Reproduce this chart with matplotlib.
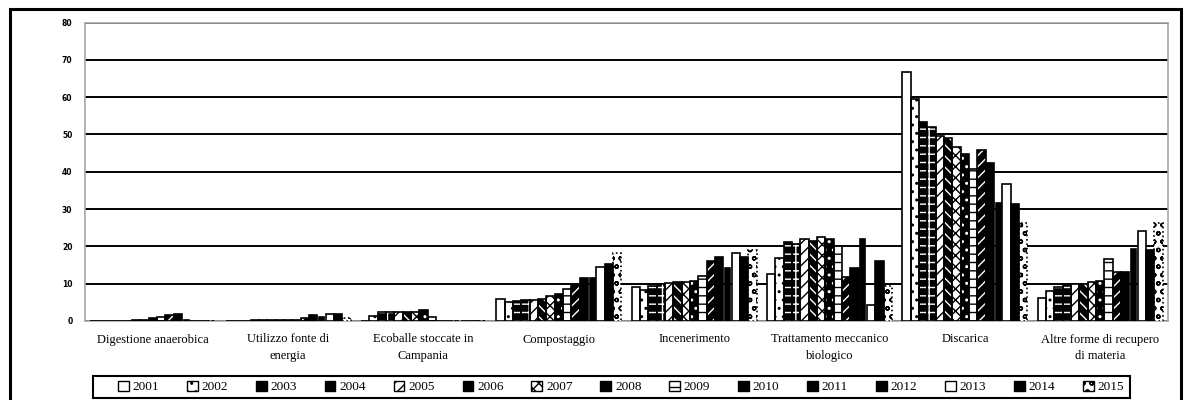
import matplotlib.pyplot as plt
from matplotlib.patches import Patch, Rectangle
import numpy as np

categories = ["Digestione anaerobica", "Utilizzo fonte di\nenergia",
              "Ecoballe stoccate in\nCampania", "Compostaggio", "Incenerimento",
              "Trattamento meccanico\nbiologico", "Discarica",
              "Altre forme di recupero\ndi materia"]
years = [str(y) for y in range(2001, 2016)]

# one row per category, one column per year (2001..2015)
digestione = [0, 0, 0, 0, 0, 0.2, 0.2, 0.7, 1.0, 1.5, 2.0, 0.4, 0, 0, 0]
utilizzo = [0, 0, 0, 0.2, 0.2, 0.2, 0.2, 0.2, 0.2, 0.8, 1.6, 1.2, 2.0, 2.0, 0.8]
ecoballe = [0, 1.3, 2.3, 2.3, 2.3, 2.3, 2.5, 2.9, 1.0, 0, 0, 0, 0, 0, 0]
compostaggio = [5.8, 5.1, 5.3, 5.5, 5.6, 6.0, 6.8, 7.3, 8.5, 9.6, 11.4, 11.4, 14.5, 15.2, 18.1]
incenerimento = [9.0, 8.4, 9.5, 9.8, 10.2, 10.4, 10.5, 10.6, 12.0, 16.1, 17.2, 14.1, 18.1, 17.2, 19.0]
tmb = [12.5, 17.0, 21.2, 20.6, 22.1, 21.5, 22.6, 22.0, 20.0, 11.9, 14.1, 22.1, 4.3, 16.1, 9.4]
discarica = [66.6, 59.4, 53.4, 51.9, 49.5, 49.0, 46.7, 44.8, 40.7, 45.8, 42.4, 31.7, 36.6, 31.4, 26.2]
altre = [6.1, 8.0, 9.0, 9.6, 9.8, 10.0, 10.4, 10.6, 16.6, 13.0, 13.0, 19.2, 24.1, 19.0, 26.2]

values = np.array([digestione, utilizzo, ecoballe, compostaggio,
                   incenerimento, tmb, discarica, altre])

# face colour, hatch, hatch colour for each year
styles = [
    ("white", None, "black"),
    ("white", "..", "black"),
    ("black", "--", "white"),
    ("black", "++", "white"),
    ("white", "///", "black"),
    ("black", "\\\\\\", "white"),
    ("white", "xxx", "black"),
    ("black", "..", "white"),
    ("white", "--", "black"),
    ("black", "///", "white"),
    ("black", None, "black"),
    ("black", None, "black"),
    ("white", None, "black"),
    ("black", None, "black"),
    ("white", "oo", "black"),
]

plt.rcParams["hatch.linewidth"] = 1.0

fig = plt.figure(figsize=(11.84, 4.0), dpi=100)
ax = fig.add_axes([85 / 1184, 1 - 321 / 400, (1168 - 85) / 1184, (321 - 22.5) / 400])

n = len(years)
span = 0.923
w = span / n
x = np.arange(len(categories))

for j, (face, hatch, hcol) in enumerate(styles):
    pos = x - span / 2 + w * (j + 0.5)
    bw = w * 0.6 if j == 11 else w
    ls = ":" if j == 14 else "-"
    # hatch colour is taken from rcParams when no edge colour is given
    with plt.rc_context({"hatch.color": hcol}):
        ax.bar(pos, values[:, j], bw, color=face, hatch=hatch,
               linewidth=0, zorder=3)
    ax.bar(pos, values[:, j], bw, fill=False, edgecolor="black",
           linewidth=1.2, linestyle=ls, zorder=4)

ax.set_ylim(0, 80)
ax.set_xlim(-0.5, len(categories) - 0.5)
ax.set_yticks(range(0, 81, 10))
ax.set_yticklabels([str(v) for v in range(0, 81, 10)],
                   fontsize=5.5, fontweight="bold", family="DejaVu Sans")
ax.yaxis.grid(True, color="black", linewidth=1.4, zorder=0)
ax.set_axisbelow(True)
ax.tick_params(axis="y", length=0, pad=9)
ax.set_xticks(x)
ax.set_xticklabels(categories, fontsize=9, family="Liberation Serif",
                   linespacing=1.5)
ax.tick_params(axis="x", length=0, pad=9)
for s in ax.spines.values():
    s.set_color("#a8a8a8")
    s.set_linewidth(1.2)

handles = []
for face, hatch, hcol in styles:
    with plt.rc_context({"hatch.color": hcol}):
        p = Patch(facecolor=face, hatch=hatch, linewidth=0)
    handles.append(p)
leg = fig.legend(handles, years, loc="center", ncol=15, mode="expand",
                 bbox_to_anchor=(114 / 1184, 1 - 398 / 400, (1128 - 114) / 1184, 22 / 400),
                 prop={"family": "Liberation Serif", "size": 9.5},
                 handlelength=0.8, handleheight=0.8, handletextpad=0.3,
                 borderpad=0.3, borderaxespad=0, frameon=False)
for p in leg.get_patches():
    p.set_edgecolor("black")
    p.set_linewidth(1.0)

# legend box and outer chart border
fig.patches.append(Rectangle((93 / 1184, 1 - 398 / 400), (1130 - 93) / 1184, 22 / 400,
                             transform=fig.transFigure, fill=False,
                             edgecolor="black", linewidth=1.5))
fig.patches.append(Rectangle((10 / 1184, -0.05), 1171 / 1184, 1.05 - 9 / 400,
                             transform=fig.transFigure, fill=False,
                             edgecolor="black", linewidth=2.2))

fig.savefig("out.png", dpi=100)
